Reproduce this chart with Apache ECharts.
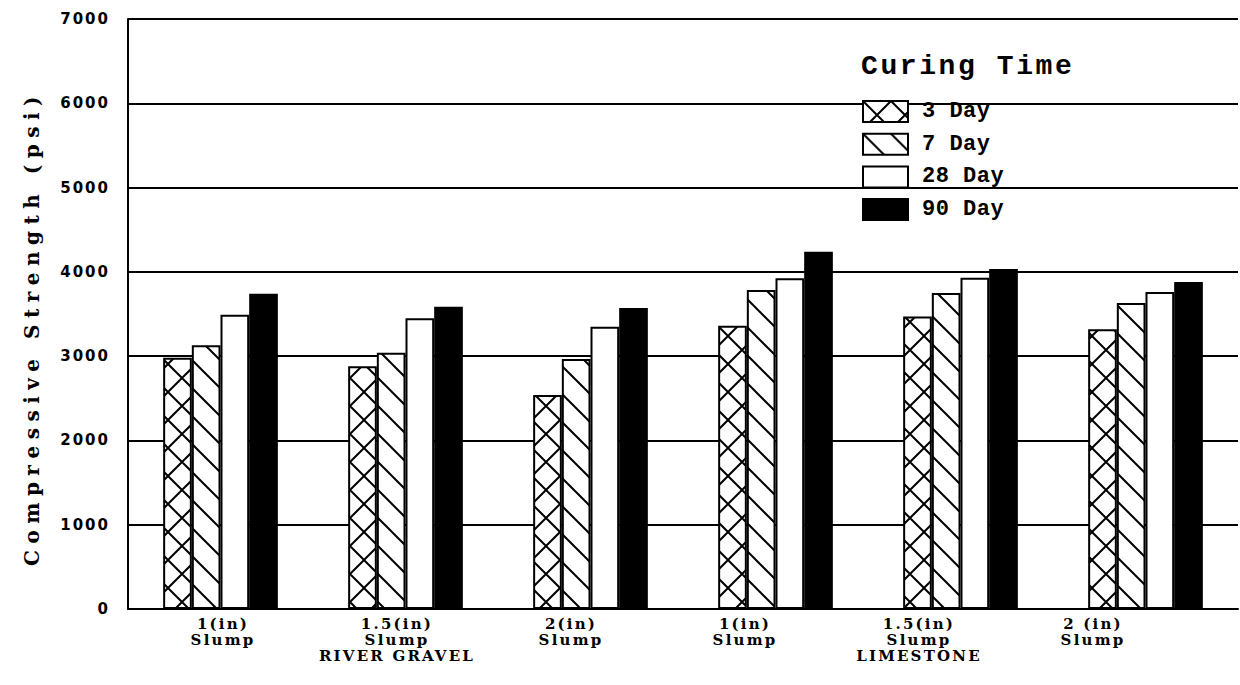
<!DOCTYPE html>
<html><head><meta charset="utf-8">
<script src="https://cdn.jsdelivr.net/npm/echarts@6/dist/echarts.min.js"></script>
<style>html,body{margin:0;padding:0;background:#fff}#c{width:1240px;height:685px}</style>
</head><body><div id="c"></div>
<script>
// ---- data ----
const categories = ['1(in)\nSlump', '1.5(in)\nSlump\nRIVER GRAVEL', '2(in)\nSlump', '1(in)\nSlump', '1.5(in)\nSlump\nLIMESTONE', '2 (in)\nSlump'];
const seriesNames = ['3 Day', '7 Day', '28 Day', '90 Day'];
const day3  = [2980, 2880, 2540, 3360, 3470, 3320];
const day7  = [3130, 3040, 2965, 3785, 3750, 3630];
const day28 = [3490, 3450, 3350, 3925, 3930, 3760];
const day90 = [3740, 3585, 3570, 4240, 4035, 3880];
const yMin = 0, yMax = 7000, yStep = 1000;
const legendTitle = 'Curing Time';
const yName = 'Compressive Strength (psi)';

// ---- hatch tiles ----
function tile(kind) {
  const s = 28, c = document.createElement('canvas');
  c.width = s; c.height = s;
  const g = c.getContext('2d');
  g.fillStyle = '#fff'; g.fillRect(0, 0, s, s);
  g.strokeStyle = '#000'; g.lineWidth = 2;
  g.beginPath();
  for (const o of [-s, 0, s]) {
    g.moveTo(o - 2, -2); g.lineTo(o + s + 2, s + 2);
    if (kind === 'cross') { g.moveTo(o - 2, s + 2); g.lineTo(o + s + 2, -2); }
  }
  g.stroke();
  return { image: c, repeat: 'repeat', imageWidth: s, imageHeight: s };
}

const chart = echarts.init(document.getElementById('c'), null, { renderer: 'svg' });
const border = { borderColor: '#000', borderWidth: 2 };
const fills = [tile('cross'), tile('diag'), '#ffffff', '#000000'];
const values = [day3, day7, day28, day90];

chart.setOption({
  animation: false,
  backgroundColor: '#fff',
  title: {
    text: legendTitle, left: 856, top: 47,
    textStyle: { fontFamily: 'Liberation Mono', fontWeight: 'bold', fontSize: 28, color: '#000' }
  },
  legend: {
    orient: 'vertical', left: 857, top: 95, itemWidth: 45, itemHeight: 21, itemGap: 9.7,
    icon: 'rect', data: seriesNames, selectedMode: false,
    textStyle: { fontFamily: 'Liberation Mono', fontWeight: 'bold', fontSize: 22, color: '#000', padding: [0, 0, 0, 9] }
  },
  grid: [
    { left: 128, right: 2, top: 19, bottom: 76 },
    { left: 136, width: 1044, top: 19, bottom: 76 }
  ],
  xAxis: [
    { type: 'category', data: categories, gridIndex: 0,
      axisLine: { lineStyle: { color: '#000', width: 2 } }, axisTick: { show: false }, axisLabel: { show: false } },
    { type: 'category', data: categories, gridIndex: 1,
      axisLine: { show: false }, axisTick: { show: false },
      axisLabel: { interval: 0, color: '#000', fontFamily: 'DejaVu Serif', fontWeight: 'bold', fontSize: 15, lineHeight: 16, margin: 7 } }
  ],
  yAxis: [
    { type: 'value', gridIndex: 0, min: yMin, max: yMax, interval: yStep,
      axisLine: { show: true, lineStyle: { color: '#000', width: 2 } }, axisTick: { show: false },
      splitLine: { lineStyle: { color: '#000', width: 2 } },
      axisLabel: { color: '#000', fontFamily: 'DejaVu Sans', fontWeight: 'bold', fontSize: 15, margin: 18,
        formatter: v => String(v) },
      name: yName, nameLocation: 'middle', nameGap: 86,
      nameTextStyle: { fontFamily: 'DejaVu Serif', fontWeight: 'bold', fontSize: 20, color: '#000', padding: [0, 28, 0, 0] } },
    { type: 'value', gridIndex: 1, min: yMin, max: yMax, show: false }
  ],
  series: seriesNames.map((n, i) => ({
    name: n, type: 'bar', xAxisIndex: 0, yAxisIndex: 0, data: values[i],
    barGap: '0%', barCategoryGap: '38%',
    itemStyle: Object.assign({ color: fills[i] }, border),
    emphasis: { disabled: true }
  }))
});

function applySpacing() {
  document.querySelectorAll('#c svg text').forEach(t => {
    const s = t.textContent;
    let ls;
    if (s.indexOf('Compressive') >= 0) ls = 6.5;
    else if (/^\d+$/.test(s)) ls = 2;
    else if (s === legendTitle) ls = 2.6;
    else if (/Day$/.test(s)) ls = 0.5;
    else ls = 2.2;
    t.setAttribute('letter-spacing', ls + 'px');
  });
}
chart.on('finished', applySpacing);
applySpacing();
</script></body></html>
